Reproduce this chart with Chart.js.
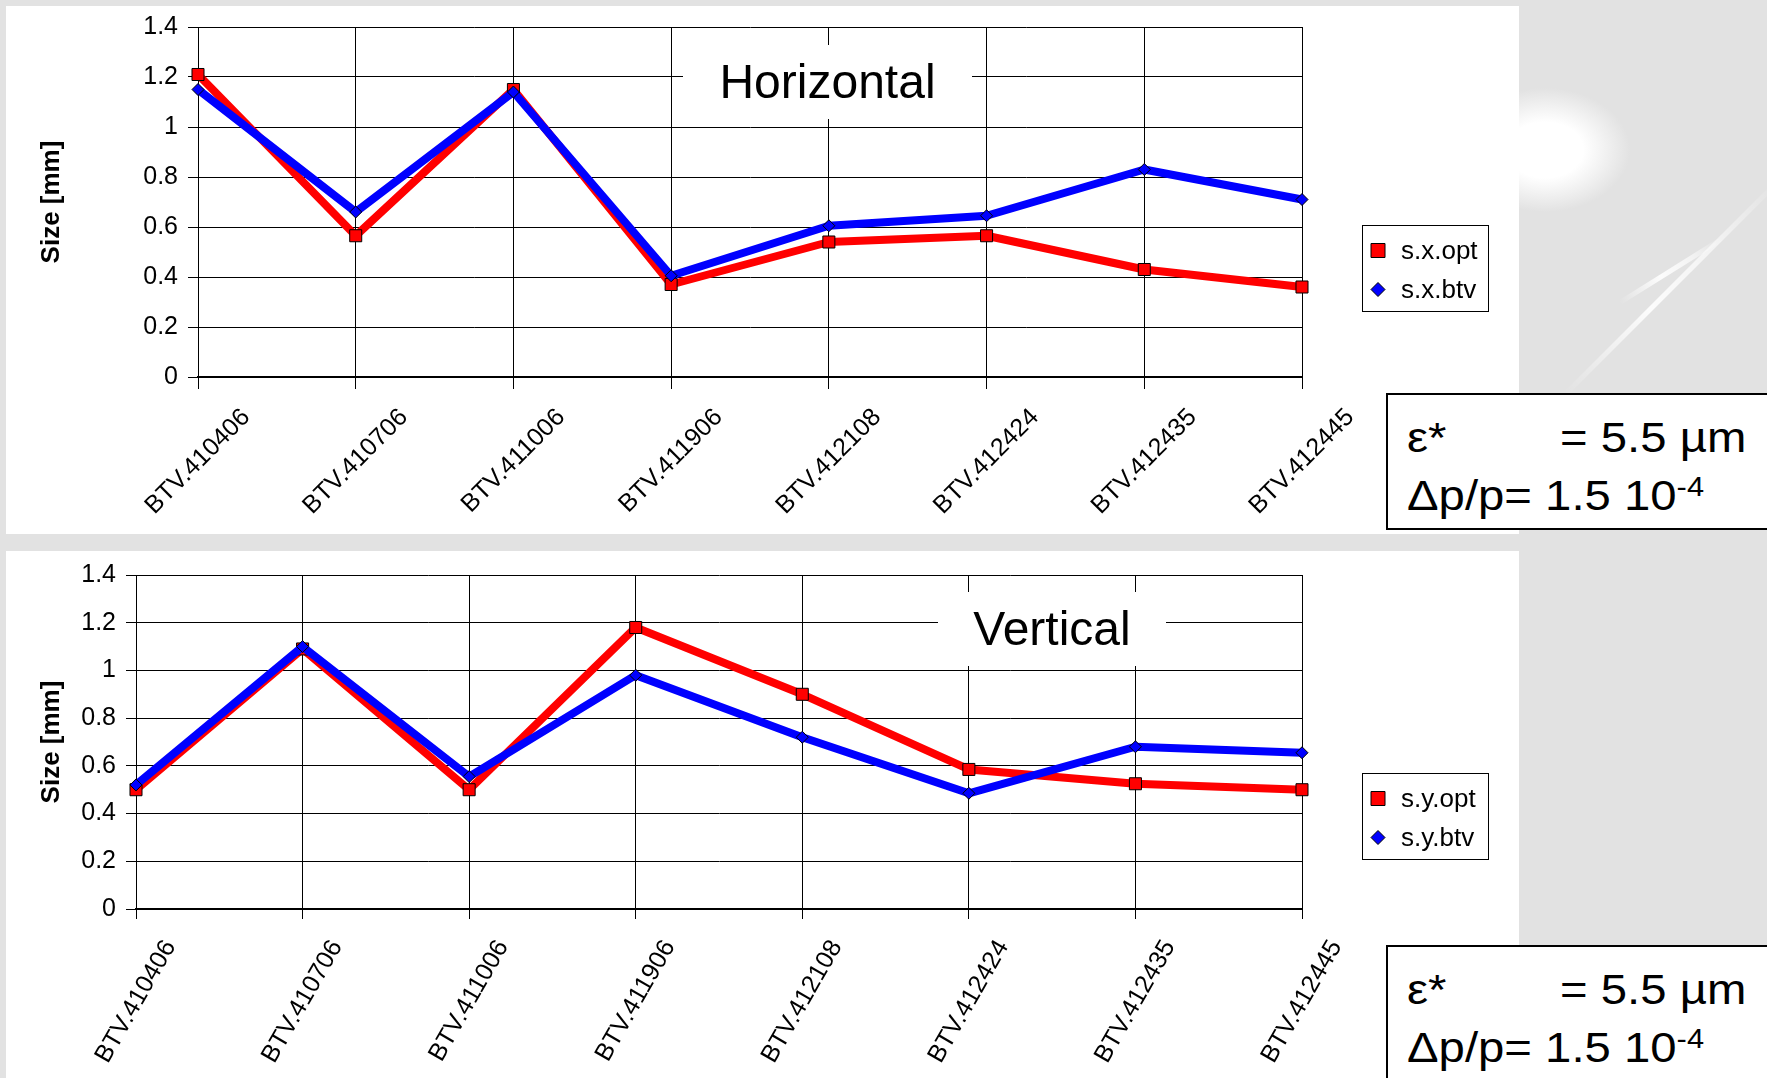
<!DOCTYPE html>
<html lang="en">
  <head>
    <meta charset="UTF-8" />
    <title>Beam size at the BTV screens</title>
    <script src="https://cdn.jsdelivr.net/npm/chart.js"></script>
    <style>
      body {
        margin: 0;
        width: 1767px;
        height: 1078px;
        overflow: hidden;
        position: relative;
        font-family: "Liberation Sans", Arial, sans-serif;
        background: radial-gradient(
          ellipse 85px 62px at 1545px 150px,
          #ffffff 0%,
          #ffffff 45%,
          #e2e2e2 100%
        );
      }

      .panel {
        position: absolute;
        left: 6px;
        width: 1513px;
        background-color: #ffffff;
      }

      #panelH {
        top: 6px;
        height: 528px;
      }

      #panelV {
        top: 551px;
        height: 540px;
      }

      .streak {
        position: absolute;
        height: 5px;
        transform-origin: left center;
        background: linear-gradient(
          90deg,
          rgba(255, 255, 255, 0),
          rgba(255, 255, 255, 0.9) 40%,
          rgba(255, 255, 255, 0.6) 70%,
          rgba(255, 255, 255, 0)
        );
      }

      canvas {
        position: absolute;
        left: 0;
      }

      #chartH {
        top: 0;
      }

      #chartV {
        top: 540px;
      }

      .info {
        position: absolute;
        left: 1386px;
        width: 440px;
        height: 133px;
        border: 2px solid #000;
        background-color: #ffffff;
      }

      .info .t {
        position: absolute;
        font-size: 43px;
        line-height: 43px;
        white-space: pre;
        color: #000;
        transform: scaleX(1.1);
        transform-origin: left center;
      }

      .info .sup {
        font-size: 28px;
        position: relative;
        top: -14px;
      }
    </style>
  </head>
  <body>
    <div class="streak" style="left: 1565px; top: 392px; width: 300px; transform: rotate(-45deg)"></div>
    <div class="streak" style="left: 1620px; top: 300px; width: 120px; transform: rotate(-32deg)"></div>

    <div class="panel" id="panelH"></div>
    <div class="panel" id="panelV"></div>

    <canvas id="chartH" width="1767" height="540"></canvas>
    <canvas id="chartV" width="1767" height="538"></canvas>

    <!-- beam parameters -->
    <div class="info" style="top: 393px">
      <span class="t" style="left: 19px; top: 21px">ε*</span>
      <span class="t" style="left: 172px; top: 21px">= 5.5 µm</span>
      <span class="t" style="left: 19px; top: 79px">Δp/p= 1.5 10<span class="sup">-4</span></span>
    </div>
    <div class="info" style="top: 945px">
      <span class="t" style="left: 19px; top: 21px">ε*</span>
      <span class="t" style="left: 172px; top: 21px">= 5.5 µm</span>
      <span class="t" style="left: 19px; top: 79px">Δp/p= 1.5 10<span class="sup">-4</span></span>
    </div>

    <script>
      const screens = [
        "BTV.410406",
        "BTV.410706",
        "BTV.411006",
        "BTV.411906",
        "BTV.412108",
        "BTV.412424",
        "BTV.412435",
        "BTV.412445",
      ];
      const yTickLabels = ["0", "0.2", "0.4", "0.6", "0.8", "1", "1.2", "1.4"];

      // horizontal size [mm]
      const sxOpt = [1.21, 0.565, 1.15, 0.37, 0.54, 0.565, 0.43, 0.36];
      const sxBtv = [1.15, 0.66, 1.14, 0.405, 0.605, 0.645, 0.83, 0.71];

      // vertical size [mm]
      const syOpt = [0.5, 1.09, 0.5, 1.18, 0.9, 0.585, 0.525, 0.5];
      const syBtv = [0.52, 1.1, 0.555, 0.98, 0.72, 0.485, 0.68, 0.655];

      const FONT = '"Liberation Sans", Arial, sans-serif';
      Chart.defaults.font.family = FONT;
      Chart.defaults.color = "#000";

      // title box, rotated screen names and the framed legend
      const decor = {
        id: "decor",
        beforeDatasetsDraw(chart, args, opts) {
          const ctx = chart.ctx;
          const b = opts.box;
          ctx.save();
          ctx.fillStyle = "#ffffff";
          ctx.fillRect(b[0], b[1], b[2], b[3]);
          ctx.fillStyle = "#000";
          ctx.font = "48px " + FONT;
          ctx.textAlign = "center";
          ctx.textBaseline = "alphabetic";
          ctx.fillText(opts.title, b[0] + b[2] / 2, opts.titleBaseline);
          ctx.restore();
        },
        afterDraw(chart, args, opts) {
          const ctx = chart.ctx;
          const area = chart.chartArea;
          const xs = chart.scales.x;
          const th = (opts.labelAngle * Math.PI) / 180;

          ctx.save();
          ctx.fillStyle = "#000";
          ctx.font = "25px " + FONT;
          ctx.textAlign = "center";
          ctx.textBaseline = "middle";
          xs.ticks.forEach((t, i) => {
            const label = chart.data.labels[i];
            const w = ctx.measureText(label).width;
            const hb = w * Math.sin(th) + 18 * Math.cos(th);
            ctx.save();
            ctx.translate(xs.getPixelForTick(i), area.bottom + opts.labelGap + hb / 2);
            ctx.rotate(-th);
            ctx.fillText(label, 0, 0);
            ctx.restore();
          });

          // legend
          const lx = 1362.5;
          const ly = Math.round(area.top + 198) + 0.5;
          ctx.strokeStyle = "#000";
          ctx.lineWidth = 1;
          ctx.strokeRect(lx, ly, 126, 86);
          ctx.font = "26px " + FONT;
          ctx.textAlign = "left";
          ctx.textBaseline = "alphabetic";
          chart.data.datasets.forEach((ds, i) => {
            const cx = lx + 15.5;
            const cy = ly + 25 + i * 39;
            ctx.beginPath();
            if (ds.pointStyle === "rect") {
              ctx.rect(cx - 7, cy - 7, 14, 14);
            } else {
              ctx.moveTo(cx, cy - 7);
              ctx.lineTo(cx + 7, cy);
              ctx.lineTo(cx, cy + 7);
              ctx.lineTo(cx - 7, cy);
              ctx.closePath();
            }
            ctx.fillStyle = ds.pointBackgroundColor;
            ctx.fill();
            ctx.stroke();
            ctx.fillStyle = "#000";
            ctx.fillText(ds.label, lx + 38.5, cy + 8);
          });
          ctx.restore();
        },
      };

      function makeChart(id, labelsOpt, labelsBtv, opt, btv, cfg) {
        return new Chart(document.getElementById(id), {
          type: "line",
          data: {
            labels: screens,
            datasets: [
              {
                label: labelsOpt,
                data: opt,
                order: 1,
                borderColor: "#ff0000",
                backgroundColor: "#ff0000",
                borderWidth: 8,
                borderJoinStyle: "round",
                tension: 0,
                clip: false,
                pointStyle: "rect",
                pointRadius: 8.5,
                pointBackgroundColor: "#ff0000",
                pointBorderColor: "#000",
                pointBorderWidth: 1,
              },
              {
                label: labelsBtv,
                data: btv,
                order: 0,
                borderColor: "#0000ff",
                backgroundColor: "#0000ff",
                borderWidth: 8,
                borderJoinStyle: "round",
                tension: 0,
                clip: false,
                pointStyle: "rectRot",
                pointRadius: 6,
                pointBackgroundColor: "#0000ff",
                pointBorderColor: "#000",
                pointBorderWidth: 1,
              },
            ],
          },
          options: {
            responsive: false,
            animation: false,
            events: [],
            layout: {
              padding: { left: 0, top: cfg.top, right: 465, bottom: 0 },
            },
            plugins: {
              legend: { display: false },
              tooltip: { enabled: false },
              decor: cfg.decor,
            },
            scales: {
              x: {
                type: "category",
                offset: false,
                ticks: { display: false },
                grid: {
                  color: "#000",
                  lineWidth: 1,
                  tickLength: cfg.xTick,
                },
                border: { display: true, color: "#000", width: 2 },
                afterFit: (scale) => {
                  scale.height = cfg.xHeight;
                },
              },
              y: {
                min: 0,
                max: 1.4,
                ticks: {
                  stepSize: 0.2,
                  padding: 10,
                  color: "#000",
                  font: { size: 25 },
                  callback: (v, i) => yTickLabels[i],
                },
                grid: { color: "#000", lineWidth: 1, tickLength: 10 },
                border: { display: true, color: "#000", width: 1 },
                title: {
                  display: true,
                  text: "Size [mm]",
                  color: "#000",
                  font: { size: 26, weight: "bold" },
                  padding: { top: 36.4, bottom: 0 },
                },
                afterFit: (scale) => {
                  scale.width = cfg.yWidth;
                },
              },
            },
          },
          plugins: [decor],
        });
      }

      makeChart("chartH", "s.x.opt", "s.x.btv", sxOpt, sxBtv, {
        top: 27,
        xHeight: 163,
        yWidth: 198,
        xTick: 12,
        decor: {
          box: [683, 45, 289, 74],
          title: "Horizontal",
          titleBaseline: 98,
          labelAngle: 45,
          labelGap: 30,
        },
      });

      makeChart("chartV", "s.y.opt", "s.y.btv", syOpt, syBtv, {
        top: 35,
        xHeight: 169,
        yWidth: 136,
        xTick: 10,
        decor: {
          box: [938, 52, 228, 74],
          title: "Vertical",
          titleBaseline: 105,
          labelAngle: 60,
          labelGap: 29,
        },
      });
    </script>
  </body>
</html>
